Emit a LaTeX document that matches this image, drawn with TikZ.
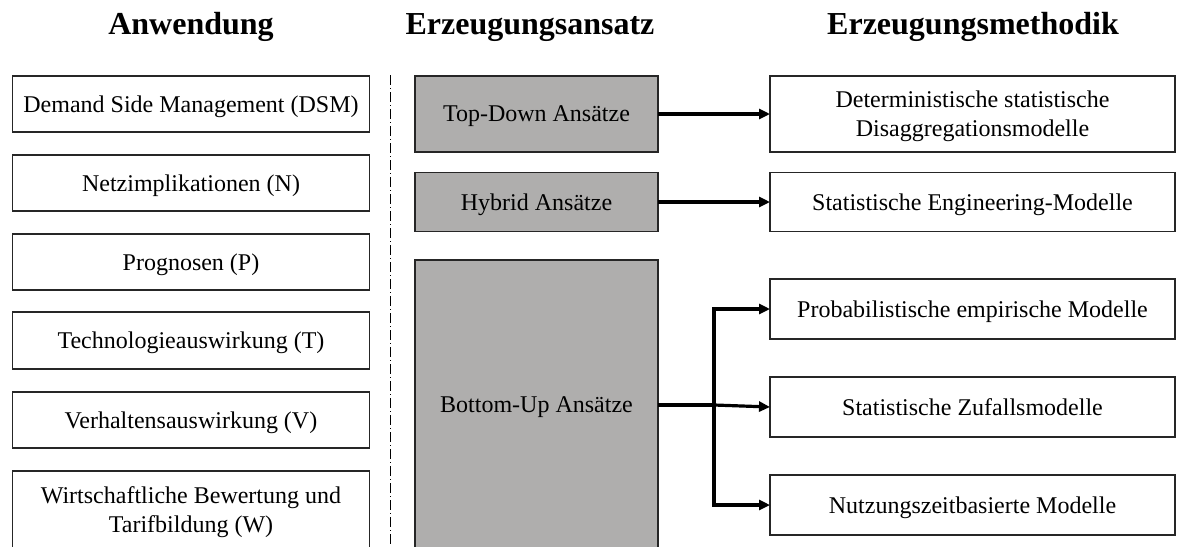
\documentclass[tikz,border=0pt]{standalone}
\usepackage{fontspec}
\setmainfont{Liberation Serif}
\usetikzlibrary{arrows.meta}
\definecolor{boxgray}{RGB}{175,174,173}
\begin{document}
\begin{tikzpicture}[x=1pt,y=-1pt,
  every node/.style={inner sep=0pt,outer sep=0pt},
  head/.style={anchor=base,font=\fontsize{32}{36}\selectfont\bfseries},
  whitebox/.style={draw=black!85,line width=1.2pt,fill=white,align=center,
    text depth=0pt,font=\fontsize{24}{29}\selectfont},
  graybox/.style={whitebox,fill=boxgray},
  conn/.style={line width=3.2pt,line join=miter},
  arr/.style={conn,-{Triangle[length=11pt,width=10pt]}}]
\useasboundingbox (0,0) rectangle (1177,546);
\clip (0,0) rectangle (1177,546);

% column headings
\node[head] (h1) at (191,34) {Anwendung};
\node[head] (h2) at (530,34) {Erzeugungsansatz};
\node[head] (h3) at (973,34) {Erzeugungsmethodik};

% applications
\node[whitebox,minimum width=357pt,minimum height=56pt] (dsm) at (191,104) {Demand Side Management (DSM)};
\node[whitebox,minimum width=357pt,minimum height=56pt] (net) at (191,183) {Netzimplikationen (N)};
\node[whitebox,minimum width=357pt,minimum height=56pt] (prog) at (191,262) {Prognosen (P)};
\node[whitebox,minimum width=357pt,minimum height=57pt] (tech) at (191,340.5) {Technologieauswirkung (T)};
\node[whitebox,minimum width=357pt,minimum height=56pt] (verh) at (191,420) {Verhaltensauswirkung (V)};
\node[whitebox,minimum width=357pt,minimum height=77pt] (wirt) at (191,509.5) {Wirtschaftliche Bewertung und\\Tarifbildung (W)};

% separator
\coordinate (sepA) at (390,75);
\coordinate (sepB) at (390,546);
\draw[line width=1pt,dash pattern=on 10pt off 3pt on 1pt off 3pt] (sepA) -- (sepB);

% approaches
\node[graybox,minimum width=243pt,minimum height=76pt] (td) at (536.5,114) {Top-Down Ansätze};
\node[graybox,minimum width=243pt,minimum height=59pt] (hy) at (536.5,202) {Hybrid Ansätze};
\node[graybox,minimum width=243pt,minimum height=290pt] (bu) at (536.5,405) {Bottom-Up Ansätze};

% methods
\node[whitebox,minimum width=405pt,minimum height=76pt] (det) at (972.5,114) {Deterministische statistische\\Disaggregationsmodelle};
\node[whitebox,minimum width=405pt,minimum height=59pt] (eng) at (972.5,202) {Statistische Engineering-Modelle};
\node[whitebox,minimum width=405pt,minimum height=60pt] (prob) at (972.5,309) {Probabilistische empirische Modelle};
\node[whitebox,minimum width=405pt,minimum height=60pt] (zuf) at (972.5,407) {Statistische Zufallsmodelle};
\node[whitebox,minimum width=405pt,minimum height=60pt] (nutz) at (972.5,505) {Nutzungszeitbasierte Modelle};

% connectors
\draw[arr] (td.east) -- (det.west);
\draw[arr] (hy.east) -- (eng.west);
\coordinate (jn) at (714,405);
\draw[conn] (bu.east) -- (jn);
\draw[arr] (jn) |- (prob.west);
\draw[arr] (jn) -- (zuf.west);
\draw[arr] (jn) |- (nutz.west);
\end{tikzpicture}
\end{document}
